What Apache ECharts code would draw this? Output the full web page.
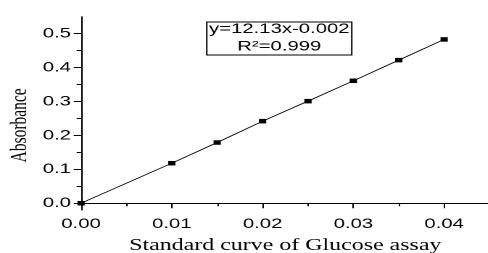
<!DOCTYPE html>
<html>
<head>
<meta charset="utf-8">
<script src="https://cdn.jsdelivr.net/npm/echarts@6/dist/echarts.min.js"></script>
<style>
html,body{margin:0;padding:0;background:#fff;overflow:hidden;}
#chart{width:336.55px;height:253px;transform:scaleX(1.45);transform-origin:0 0;}
</style>
</head>
<body>
<div id="chart"></div>
<script>
// Data
var concentration = [0, 0.01, 0.015, 0.02, 0.025, 0.03, 0.035, 0.04];
var absorbance = [0, 0.118, 0.179, 0.242, 0.301, 0.361, 0.422, 0.483];
var xMajorTicks = [0, 0.01, 0.02, 0.03, 0.04];
var xMinorTicks = [0.005, 0.015, 0.025, 0.035];
var yMajorTicks = [0, 0.1, 0.2, 0.3, 0.4, 0.5];
var yMinorTicks = [0.05, 0.15, 0.25, 0.35, 0.45];
var equationText = 'y=12.13x-0.002';
var r2Text = 'R\u00B2=0.999';
var xTitle = 'Standard curve of Glucose assay';
var yTitle = 'Absorbance';

var points = concentration.map(function (c, i) { return [c, absorbance[i]]; });

var chart = echarts.init(document.getElementById('chart'), null, {devicePixelRatio: 2});
var sans = 'Liberation Sans, Arial, sans-serif';
var serif = 'Liberation Serif, Times New Roman, serif';

chart.setOption({
  animation: false,
  backgroundColor: '#fff',
  grid: {left: 55.9, top: 16.7, width: 281.7, height: 193.3, containLabel: false, outerBoundsMode: 'none'},
  xAxis: [{
    type: 'value', min: 0, max: 0.045,
    axisLine: {lineStyle: {color: '#000', width: 1}},
    axisTick: {length: 5, customValues: xMajorTicks, lineStyle: {color: '#000'}},
    splitLine: {show: false},
    axisLabel: {color: '#000', fontFamily: sans, fontSize: 14, margin: 7,
      customValues: xMajorTicks,
      formatter: function (v) { return v.toFixed(2); }},
    name: xTitle, nameLocation: 'middle', nameGap: 27, nameMoveOverlap: false,
    nameTextStyle: {color: '#000', fontFamily: serif, fontSize: 16.5}
  }, {
    type: 'value', min: 0, max: 0.045, position: 'bottom',
    axisLine: {show: false},
    axisTick: {show: true, length: 3, customValues: xMinorTicks, lineStyle: {color: '#000'}},
    axisLabel: {show: false},
    splitLine: {show: false}
  }],
  yAxis: [{
    type: 'value', min: -0.02, max: 0.55,
    axisLine: {show: true, lineStyle: {color: '#000', width: 1}},
    axisTick: {show: true, length: 5, customValues: yMajorTicks, lineStyle: {color: '#000'}},
    splitLine: {show: false},
    axisLabel: {color: '#000', fontFamily: sans, fontSize: 14, margin: 7,
      customValues: yMajorTicks,
      formatter: function (v) { return v.toFixed(1); }},
    name: yTitle, nameLocation: 'middle', nameGap: 34, nameRotate: 90, nameMoveOverlap: false,
    nameTextStyle: {color: '#000', fontFamily: serif, fontSize: 15.5, padding: [0, 24, 0, 0]}
  }, {
    type: 'value', min: -0.02, max: 0.55, position: 'left',
    axisLine: {show: false},
    axisTick: {show: true, length: 3, customValues: yMinorTicks, lineStyle: {color: '#000'}},
    axisLabel: {show: false},
    splitLine: {show: false}
  }],
  series: [{
    type: 'line',
    data: points,
    symbol: 'rect',
    symbolSize: [5, 4.5],
    itemStyle: {color: '#000'},
    lineStyle: {color: '#000', width: 0.8}
  }],
  graphic: [{
    type: 'rect',
    shape: {x: 142.6, y: 22, width: 100, height: 33},
    style: {fill: '#fff', stroke: '#000', lineWidth: 1},
    z: 10
  }, {
    type: 'text',
    x: 192.6, y: 29,
    style: {text: equationText, fontFamily: sans, fontSize: 14, fill: '#000',
      textAlign: 'center', textVerticalAlign: 'middle'},
    z: 11
  }, {
    type: 'text',
    x: 192.6, y: 46.5,
    style: {text: r2Text, fontFamily: sans, fontSize: 14, fill: '#000',
      textAlign: 'center', textVerticalAlign: 'middle'},
    z: 11
  }]
});
</script>
</body>
</html>
